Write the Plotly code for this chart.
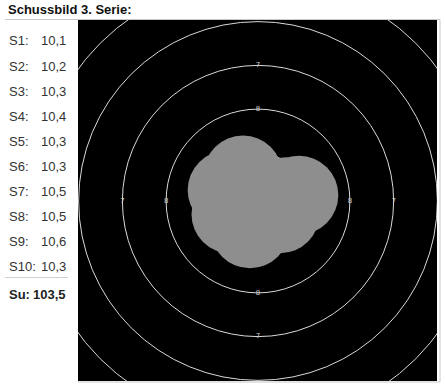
import numpy as np
import plotly.graph_objects as go

# ---------------- data ----------------
title_text = "Schussbild 3. Serie:"
shot_labels = ["S1:", "S2:", "S3:", "S4:", "S5:", "S6:", "S7:", "S8:", "S9:", "S10:"]
shot_scores = [10.1, 10.2, 10.3, 10.4, 10.3, 10.3, 10.5, 10.5, 10.6, 10.3]
sum_label = "Su:"
sum_value = "103,5"
# shot centres in mm (target centre = 0,0)
shot_x = [2.34, -1.77, -0.86, 1.26, -0.46, -1.55, -0.74, 1.03, 0.23, 1.60]
shot_y = [0.34, 0.63, 1.49, -0.74, -1.60, -0.75, -0.80, -0.40, -0.80, 0.25]
pellet_radius = 2.25  # mm (4.5 mm pellet)
# ring numbers and their outer radii in mm (10m air rifle target)
ring_numbers = [1, 2, 3, 4, 5, 6, 7, 8, 9]
ring_radii = [22.75, 20.25, 17.75, 15.25, 12.75, 10.25, 7.75, 5.25, 2.75]
label_rings = [7, 8, 9]

# ---------------- layout constants ----------------
W, H = 445, 388
px_l, px_r, px_t, px_b = 78, 437, 20, 381
cx, cy, scale = 258, 201, 17.5

def fx(px):
    return px / W

def fy(py):
    return 1 - py / H

fig = go.Figure()

# ring labels (text on the ring lines)
lx, ly, lt = [], [], []
for n, r in zip(ring_numbers, ring_radii):
    if n in label_rings:
        for dx, dy in [(-1, 0), (1, 0), (0, 1), (0, -1)]:
            lx.append(dx * r)
            ly.append(dy * r)
            lt.append(str(n))
fig.add_trace(go.Scatter(x=lx, y=ly, text=lt, mode="text",
                         textfont=dict(size=7, color="#cfcfcf", family="DejaVu Sans"),
                         hoverinfo="skip", showlegend=False, cliponaxis=True))

shapes = []
for r in ring_radii:
    shapes.append(dict(type="circle", xref="x", yref="y", x0=-r, y0=-r, x1=r, y1=r,
                       line=dict(color="#d9d9d9", width=1), layer="below"))
for sx, sy in zip(shot_x, shot_y):
    shapes.append(dict(type="circle", xref="x", yref="y",
                       x0=sx - pellet_radius, y0=sy - pellet_radius,
                       x1=sx + pellet_radius, y1=sy + pellet_radius,
                       fillcolor="#8e8e8e", line=dict(width=0), layer="above"))
# frame lines
line_col = "#c8c8c8"
shapes += [
    dict(type="line", xref="paper", yref="paper", x0=fx(5), x1=fx(440), y0=fy(19.5), y1=fy(19.5),
         line=dict(color=line_col, width=1)),
    dict(type="line", xref="paper", yref="paper", x0=fx(440), x1=fx(440), y0=fy(19.5), y1=fy(382),
         line=dict(color=line_col, width=1)),
    dict(type="line", xref="paper", yref="paper", x0=fx(78), x1=fx(440), y0=fy(382), y1=fy(382),
         line=dict(color=line_col, width=1)),
    dict(type="line", xref="paper", yref="paper", x0=fx(5), x1=fx(68), y0=fy(277.5), y1=fy(277.5),
         line=dict(color="#d0d0d0", width=1)),
]

annotations = [dict(text="<b>" + title_text + "</b>", xref="paper", yref="paper",
                    x=fx(6), y=fy(9), xanchor="left", yanchor="middle", showarrow=False,
                    font=dict(size=13, color="#111", family="Liberation Sans"))]
row_y0, row_dy = 41, 25
for i, (lab, sc) in enumerate(zip(shot_labels, shot_scores)):
    yy = row_y0 + i * row_dy
    annotations.append(dict(text=lab, xref="paper", yref="paper", x=fx(7), y=fy(yy),
                            xanchor="left", yanchor="middle", showarrow=False,
                            font=dict(size=13, color="#333", family="Liberation Sans")))
    annotations.append(dict(text=f"{sc:.1f}".replace(".", ","), xref="paper", yref="paper",
                            x=fx(67.5), y=fy(yy), xanchor="right", yanchor="middle", showarrow=False,
                            font=dict(size=13, color="#333", family="Liberation Sans")))
annotations.append(dict(text="<b>" + sum_label + "</b>", xref="paper", yref="paper", x=fx(7), y=fy(294),
                        xanchor="left", yanchor="middle", showarrow=False,
                        font=dict(size=13, color="#222", family="Liberation Sans")))
annotations.append(dict(text="<b>" + sum_value + "</b>", xref="paper", yref="paper", x=fx(67.5), y=fy(294),
                        xanchor="right", yanchor="middle", showarrow=False,
                        font=dict(size=13, color="#222", family="Liberation Sans")))

fig.update_layout(
    width=W, height=H, margin=dict(l=0, r=0, t=0, b=0),
    paper_bgcolor="white", plot_bgcolor="black",
    xaxis=dict(domain=[fx(px_l), fx(px_r)],
               range=[(px_l - cx) / scale, (px_r - cx) / scale],
               visible=False, showgrid=False, zeroline=False, fixedrange=True),
    yaxis=dict(domain=[fy(px_b), fy(px_t)],
               range=[-(px_b - cy) / scale, (cy - px_t) / scale],
               visible=False, showgrid=False, zeroline=False, fixedrange=True),
    shapes=shapes, annotations=annotations, showlegend=False,
)
fig.write_html("out.html")
